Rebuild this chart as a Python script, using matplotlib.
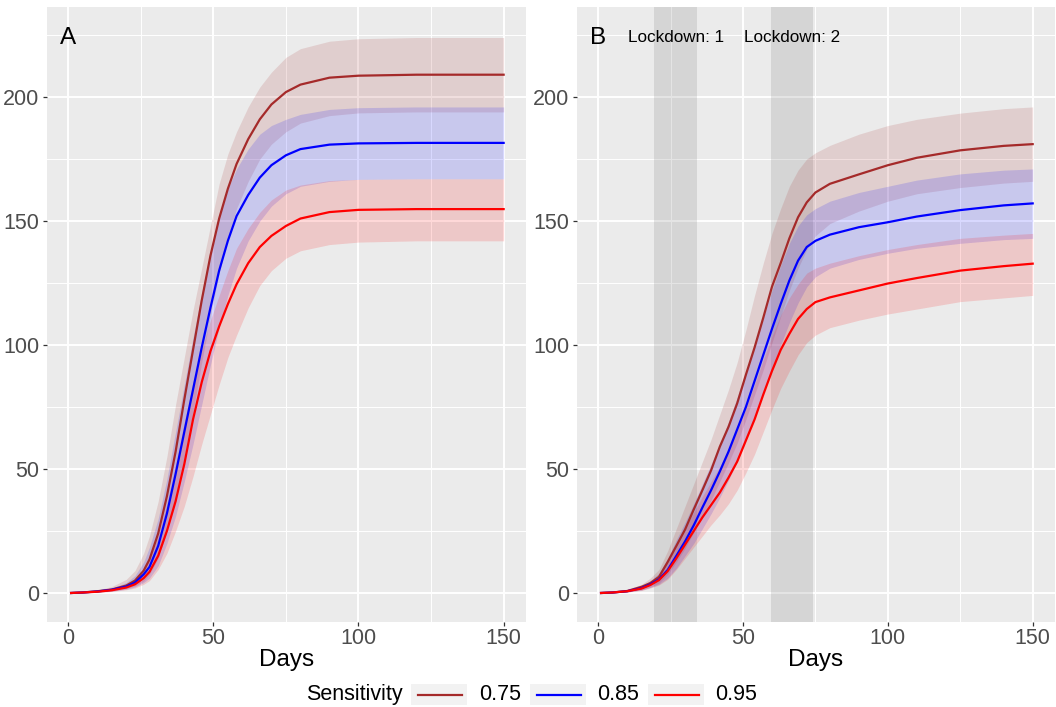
import matplotlib
matplotlib.use("Agg")
import matplotlib.pyplot as plt
from matplotlib.patches import Rectangle
from matplotlib.lines import Line2D

plt.rcParams['font.family'] = ['Liberation Sans', 'DejaVu Sans']

# ---------------- data ----------------
sens_labels = ["0.75", "0.85", "0.95"]
colors = ["#A52A2A", "#0000FF", "#FF0000"]

# Panel A (no lockdown)
days_A = [1, 5, 10, 15, 20, 23, 26, 28, 31, 34, 37, 40, 43, 46, 49, 52, 55, 58, 62, 66, 70, 75, 80, 90, 100, 120, 150]
A_075 = [0, 0.2, 0.7, 1.4, 3, 5, 9, 13.5, 24, 39, 57, 78, 98, 118, 136, 151, 163, 173, 183, 191, 197, 202, 205, 207.8, 208.6, 209, 209]
A_075_hi = [0, 0.4, 1.2, 2.6, 5.5, 9, 16, 23, 37, 55, 76, 95, 114, 131, 148, 165, 177, 186, 196, 204, 210, 216, 219.5, 222.5, 223.5, 224, 224]
A_075_lo = [0, 0.1, 0.4, 0.8, 1.8, 2.8, 4.8, 7.5, 14, 25, 39, 55, 73, 93, 112, 129, 143, 155, 166, 175, 181, 186, 189.5, 192.5, 193.6, 194, 194]
A_085 = [0, 0.2, 0.6, 1.3, 2.6, 4.2, 7.5, 10.5, 19, 32, 48, 65, 82, 99, 115, 130, 142, 152, 160.5, 167.5, 172.5, 176.5, 179, 180.8, 181.3, 181.5, 181.5]
A_085_hi = [0, 0.3, 0.9, 1.9, 4.2, 7, 12.5, 18.5, 30, 46, 65, 84, 103, 121, 138, 152, 163, 171, 179, 185, 188.5, 191, 193, 195, 195.7, 196, 196]
A_085_lo = [0, 0.1, 0.3, 0.7, 1.5, 2.4, 4.2, 6, 11, 20, 31, 45, 60, 76, 92, 107, 120, 131, 142, 150, 156, 161, 164, 166, 166.8, 167, 167]
A_095 = [0, 0.2, 0.5, 1.1, 2.2, 3.5, 6, 8.5, 15, 25, 37, 52, 70, 85, 97.5, 107.5, 116.5, 124.5, 133, 139.5, 144, 148, 151, 153.6, 154.5, 154.8, 154.8]
A_095_hi = [0, 0.3, 0.7, 1.6, 3.3, 5.5, 9.5, 13.5, 23, 36, 52, 69, 85, 98, 110, 120, 130, 139, 147, 153.5, 158.5, 162.5, 164.5, 166.3, 166.8, 167, 167]
A_095_lo = [0, 0.1, 0.3, 0.6, 1.3, 2, 3.5, 5, 9.5, 16, 25, 35, 47, 60, 72, 84, 95, 104, 115, 124, 130, 135, 138, 140.5, 141.5, 142, 142]

# Panel B (two lockdowns)
days_B = [1, 5, 10, 15, 18, 21, 24, 27, 30, 33, 36, 39, 42, 45, 48, 51, 54, 57, 60, 63, 66, 69, 72, 75, 80, 90, 100, 110, 125, 140, 150]
B_075 = [0, 0.2, 0.8, 2.5, 4, 6.5, 12.5, 19, 25.6, 33.7, 41.5, 49.5, 59, 67, 76.5, 88, 99, 111, 123.5, 133, 143, 151.5, 157.5, 161.5, 165, 168.8, 172.5, 175.5, 178.5, 180.3, 181]
B_075_hi = [0, 0.4, 1.3, 3.5, 6, 9.5, 17, 26, 35, 44, 53, 62, 72, 82, 93, 106, 120, 133, 145, 155, 164, 170.5, 175, 177.5, 180.5, 185, 188.5, 191, 193.5, 195.3, 196]
B_075_lo = [0, 0.1, 0.4, 1.2, 2.3, 4, 7.5, 12.5, 18, 24.5, 31, 37.5, 45, 52.5, 60.5, 70, 80, 90, 101, 111.5, 122, 131, 138.5, 144, 149, 154, 158, 161, 163.5, 165.3, 166]
B_085 = [0, 0.2, 0.7, 2, 3.5, 5.5, 9.3, 15, 20.8, 27.3, 34.5, 41.5, 49, 57, 66, 75, 85.5, 96, 106.5, 116.5, 126, 134, 139.5, 142, 144.5, 147.5, 149.5, 151.8, 154.4, 156.3, 157.1]
B_085_hi = [0, 0.3, 1, 2.8, 5, 8, 14, 21.5, 28.5, 36, 44, 52, 60, 69, 79, 89.5, 100, 111, 122, 132, 141, 148, 152.5, 155, 158, 161.5, 164, 166.5, 169, 170.5, 171]
B_085_lo = [0, 0.1, 0.4, 1.2, 2.2, 3.5, 6, 10, 15, 20, 26, 32, 38.5, 45.5, 53, 61.5, 71, 80.5, 90.5, 100, 109, 117, 123.5, 127.5, 131, 134.5, 137, 139, 141, 142.5, 143]
B_095 = [0, 0.2, 0.7, 1.8, 3.2, 5.2, 8.8, 14, 19.5, 25, 30.5, 35.5, 40.5, 46.5, 53, 61.5, 70, 80, 89.5, 98, 104.5, 110.5, 114.5, 117.3, 119.2, 122, 124.8, 127, 130, 131.8, 132.8]
B_095_hi = [0, 0.3, 1, 2.6, 4.5, 7.5, 12.5, 19.5, 26, 32.5, 39, 45, 51, 58, 65.5, 74.5, 84, 94, 103.5, 112, 119, 124.5, 129, 131, 133, 136, 138.5, 140.5, 143, 144.3, 145]
B_095_lo = [0, 0.1, 0.4, 1, 2, 3.2, 5.5, 9.5, 14, 18.5, 23, 27.5, 31.5, 36, 41.5, 48.5, 56, 65, 74, 82.5, 89.5, 96, 101, 104, 107, 110, 112.5, 114.5, 117.5, 119, 120]

lockdown_start = [19.3, 59.5]
lockdown_end = [34.2, 74.3]
lockdown_labels = ["Lockdown: 1", "Lockdown: 2"]

x_ticks = [0, 50, 100, 150]
y_ticks = [0, 50, 100, 150, 200]

# ---------------- figure ----------------
W, H = 1056, 707
fig = plt.figure(figsize=(W / 100, H / 100), dpi=100)

def fx(px):
    return px / W

def fy(py):
    return 1 - py / H

axA = fig.add_axes([fx(47), fy(622), (526 - 47) / W, (622 - 7) / H])
axB = fig.add_axes([fx(577), fy(622), (1055 - 577) / W, (622 - 7) / H])


def style(ax):
    ax.set_facecolor("#EBEBEB")
    for s in ax.spines.values():
        s.set_visible(False)
    ax.set_xlim(-7.3, 157.7)
    ax.set_ylim(-11.7, 236.3)
    ax.set_xticks(x_ticks)
    ax.set_yticks(y_ticks)
    ax.set_xticks([25, 75, 125], minor=True)
    ax.set_yticks([25, 75, 125, 175, 225], minor=True)
    ax.grid(True, which="major", color="white", lw=1.4, zorder=0)
    ax.grid(True, which="minor", color="white", lw=0.7, zorder=0)
    ax.set_axisbelow(True)
    ax.tick_params(which="major", length=3.0, width=0.9, color="#333333",
                   labelsize=15.5, labelcolor="#4D4D4D", pad=2.5)
    ax.tick_params(axis="x", which="major", pad=1.2)
    ax.tick_params(which="minor", length=0)
    ax.set_xlabel("Days", fontsize=17.5, color="black", labelpad=0)


def draw(ax, days, series):
    for (mid, lo, hi), c in zip(series, colors):
        ax.fill_between(days, lo, hi, color=c, alpha=0.15, lw=0, zorder=2)
    for (mid, lo, hi), c in zip(series, colors):
        ax.plot(days, mid, color=c, lw=1.6, zorder=3, solid_joinstyle="round")


style(axA)
style(axB)

draw(axA, days_A, [(A_075, A_075_lo, A_075_hi),
                   (A_085, A_085_lo, A_085_hi),
                   (A_095, A_095_lo, A_095_hi)])

for s, e, lab in zip(lockdown_start, lockdown_end, lockdown_labels):
    axB.axvspan(s, e, color="#808080", alpha=0.2, lw=0, zorder=1)
    axB.text((s + e) / 2, 222.3, lab, ha="center", va="baseline", fontsize=12.3, color="black")

draw(axB, days_B, [(B_075, B_075_lo, B_075_hi),
                   (B_085, B_085_lo, B_085_hi),
                   (B_095, B_095_lo, B_095_hi)])

axA.text(0, 221.3, "A", ha="center", va="baseline", fontsize=17.5, color="black")
axB.text(0, 221.3, "B", ha="center", va="baseline", fontsize=17.5, color="black")

# ---------------- legend (manual, ggplot style) ----------------
fig.text(fx(306), fy(694.5), "Sensitivity", fontsize=15.5, ha="left", va="center", color="black")
key_x = [411, 530, 648]
lab_x = [479, 597, 715]
for kx, lx, c, lab in zip(key_x, lab_x, colors, sens_labels):
    fig.patches.append(Rectangle((fx(kx), fy(705)), 56 / W, 21 / H,
                                 transform=fig.transFigure, facecolor="#F2F2F2",
                                 edgecolor="none"))
    fig.lines.append(Line2D([fx(kx + 7), fx(kx + 51)], [fy(694.5), fy(694.5)],
                            transform=fig.transFigure, color=c, lw=1.6))
    fig.text(fx(lx), fy(694.5), lab, fontsize=15.5, ha="left", va="center", color="black")

fig.savefig("out.png", dpi=100)
